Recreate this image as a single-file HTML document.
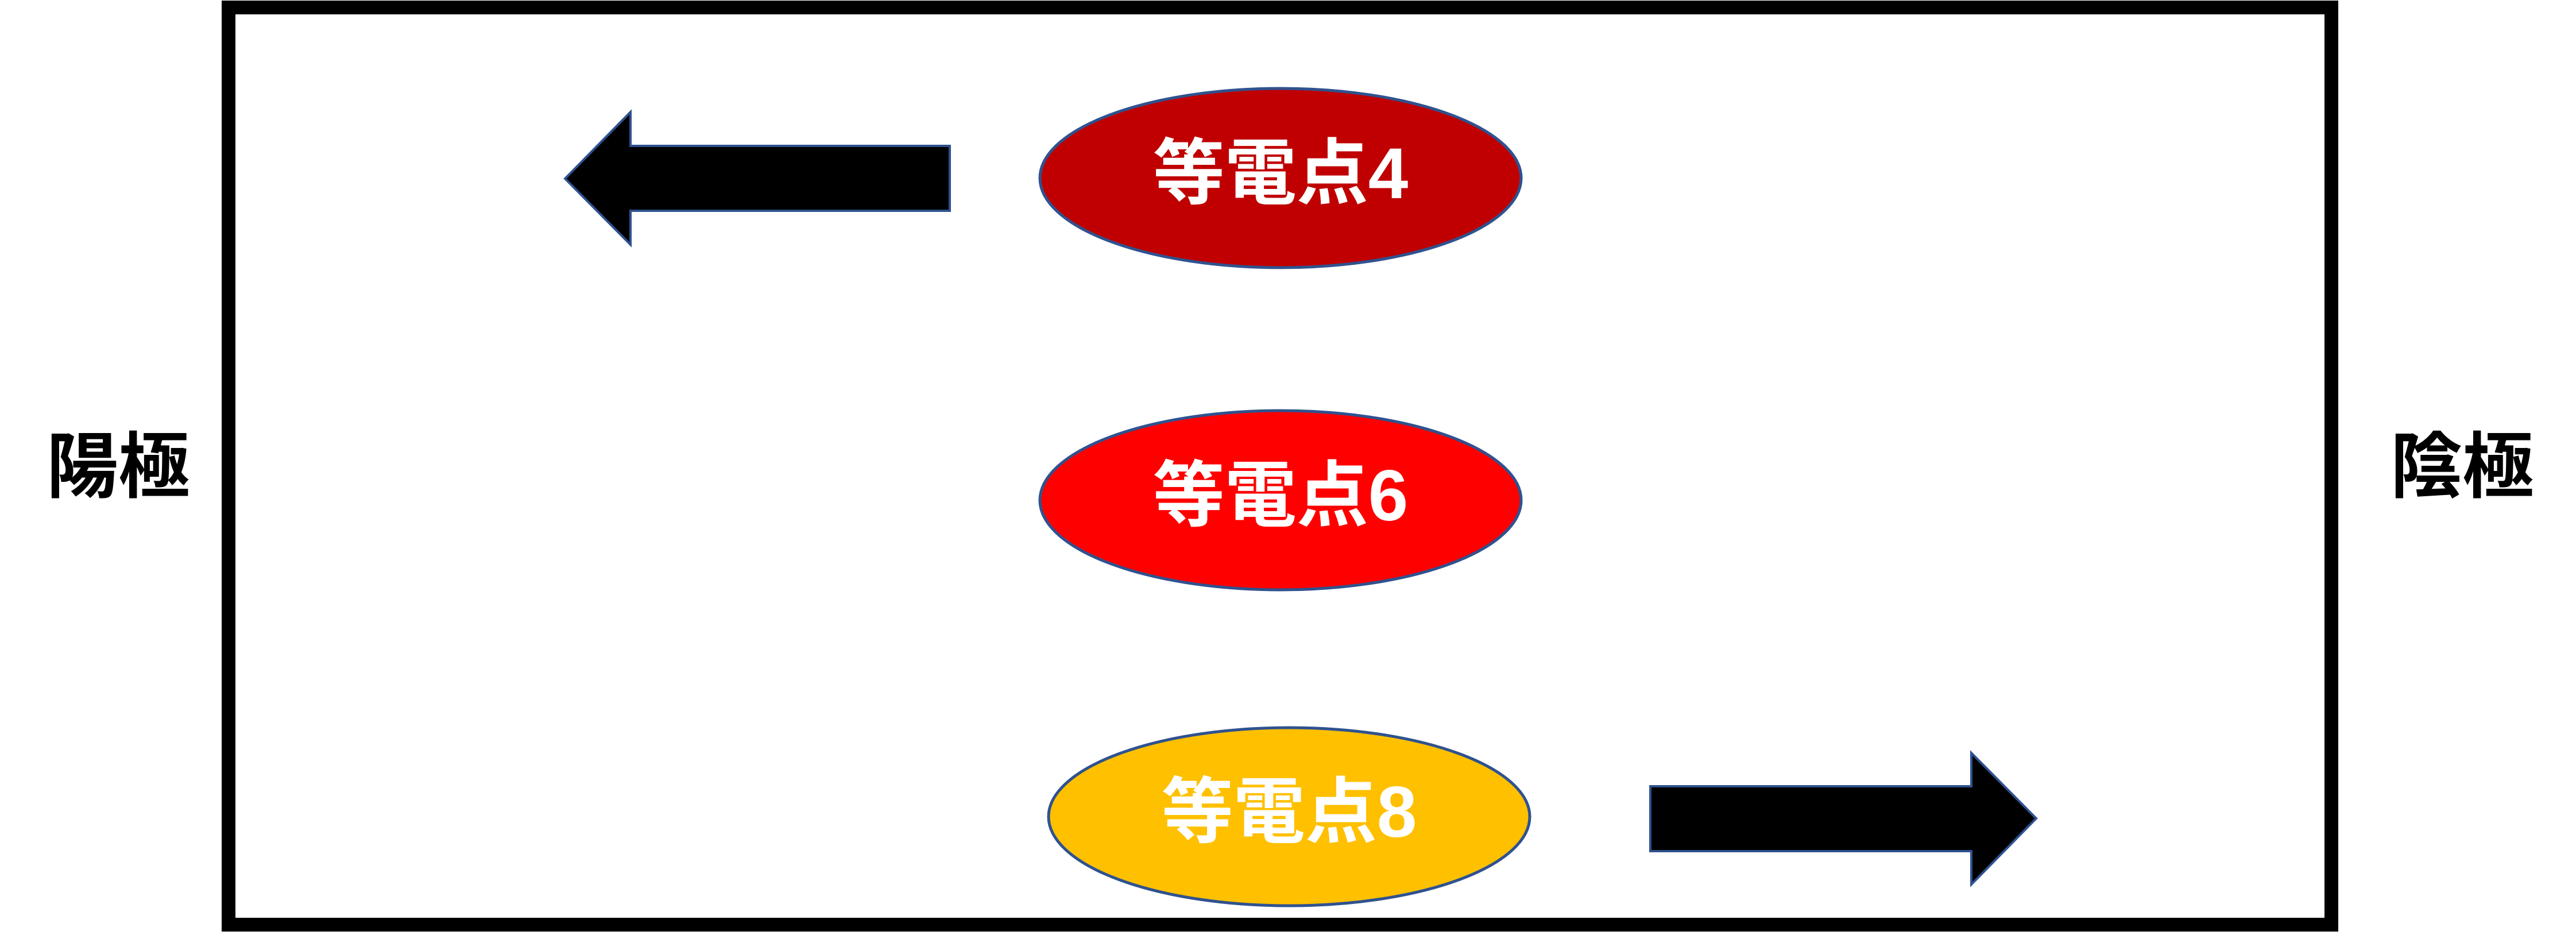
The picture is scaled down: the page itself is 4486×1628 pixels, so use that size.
<!DOCTYPE html>
<html><head><meta charset="utf-8"><style>
html,body{margin:0;padding:0;background:#fff;}
body{width:4486px;height:1623px;overflow:hidden;}
</style></head><body>
<svg width="4486" height="1623" viewBox="0 0 4486 1623" xmlns="http://www.w3.org/2000/svg">
<rect x="398" y="13" width="3662" height="1597" fill="none" stroke="#000" stroke-width="24"/>
<polygon points="984,311 1098,195 1098,254 1654,254 1654,367 1098,367 1098,426" fill="#000" stroke="#2F528F" stroke-width="4"/>
<polygon points="3546,1425 3433,1311 3433,1369 2874,1369 2874,1482 3433,1482 3433,1540" fill="#000" stroke="#2F528F" stroke-width="4"/>
<g font-family="'Liberation Sans','Noto Sans CJK JP',sans-serif" font-weight="bold" font-size="125" text-anchor="middle">
<text x="206" y="856" fill="#000">陽極</text>
<text x="4288" y="856" fill="#000">陰極</text>
<ellipse cx="2230" cy="310" rx="419" ry="156" fill="#C00000" stroke="#2F528F" stroke-width="5"/>
<text x="2230" y="345" fill="#fff">等電点4</text>
<ellipse cx="2230" cy="871" rx="419" ry="156" fill="#FF0000" stroke="#2F528F" stroke-width="5"/>
<text x="2230" y="906" fill="#fff">等電点6</text>
<ellipse cx="2245" cy="1422" rx="419" ry="155" fill="#FFC000" stroke="#2F528F" stroke-width="5"/>
<text x="2245" y="1457" fill="#fff">等電点8</text>
</g>
</svg>
</body></html>
